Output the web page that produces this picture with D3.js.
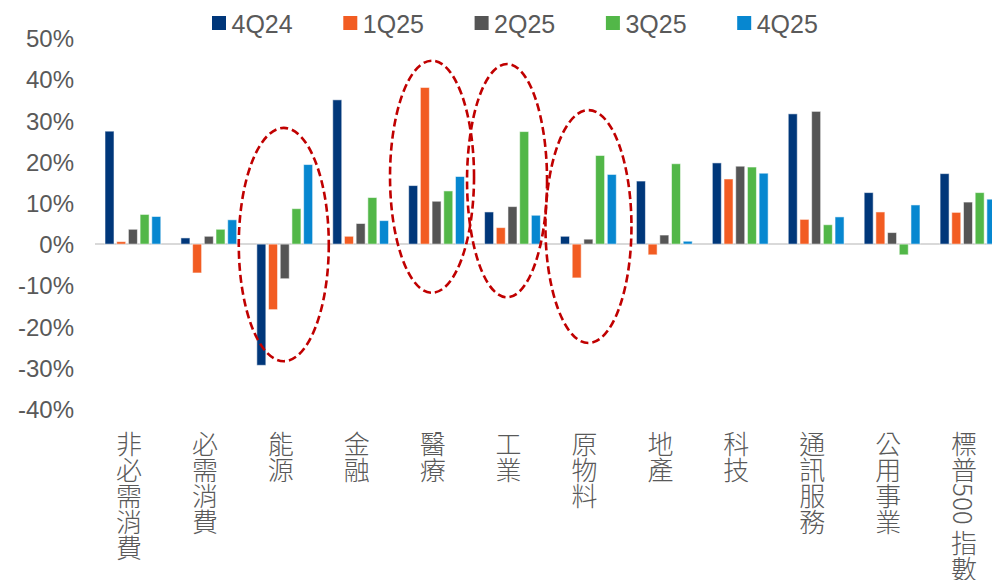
<!DOCTYPE html>
<html>
<head>
<meta charset="utf-8">
<script src="https://cdn.jsdelivr.net/npm/d3@7"></script>
<style>
    html, body {margin: 0; padding: 0; background: #fff; overflow: hidden;}
    #js-chart {width: 992px; height: 580px;}
</style>
</head>
<body>
<div id="js-chart"></div>
<script>
// 類股
var categories = ["非必需消費", "必需消費", "能源", "金融", "醫療", "工業", "原物料", "地產", "科技", "通訊服務", "公用事業", "標普500 指數"];
var seriesNames = ["4Q24", "1Q25", "2Q25", "3Q25", "4Q25"];
var seriesColors = ["#00377a", "#f25c22", "#555555", "#52b748", "#0787d0"];

// 各季報酬 (%)
var q4_24 = [27.4, 1.5, -29.4, 35.0, 14.2, 7.8, 1.9, 15.3, 19.7, 31.6, 12.5, 17.1];
var q1_25 = [0.6, -7.0, -15.9, 1.9, 38.0, 4.0, -8.2, -2.6, 15.8, 6.0, 7.8, 7.7];
var q2_25 = [3.6, 1.9, -8.4, 5.0, 10.4, 9.1, 1.2, 2.2, 18.9, 32.2, 2.8, 10.2];
var q3_25 = [7.2, 3.6, 8.6, 11.3, 12.9, 27.3, 21.5, 19.5, 18.7, 4.7, -2.6, 12.5];
var q4_25 = [6.7, 5.9, 19.3, 5.7, 16.4, 7.0, 16.9, 0.7, 17.2, 6.6, 9.5, 10.9];
var seriesValues = [q4_24, q1_25, q2_25, q3_25, q4_25];

var yTicks = [-40, -30, -20, -10, 0, 10, 20, 30, 40, 50];

// 圈起來的類股 (上緣, 下緣 %)
var circledCats = ["能源", "醫療", "工業", "原物料"];
var circledTop = [28.2, 44.5, 43.7, 32.5];
var circledBottom = [-28.4, -11.8, -12.9, -24.0];

var FONT = "Arial, 'Liberation Sans', sans-serif";
var CJK = "'Noto Sans CJK TC', 'Noto Sans CJK SC', sans-serif";
var TXT = "#595959";

function draw() {
    var width = 992, height = 580;

    var svg = d3.select("#js-chart").append("svg")
        .attr("width", width)
        .attr("height", height);

    var x0 = d3.scaleBand()
        .domain(categories)
        .range([95, 1006]);

    var x1 = d3.scaleBand()
        .domain(seriesNames)
        .range([10, 65.8])
        .paddingInner(0.23)
        .paddingOuter(0);

    var y = d3.scaleLinear()
        .domain([-40, 50])
        .range([409, 38]);

    // y 軸文字
    var yAxis = d3.axisLeft(y)
        .tickValues(yTicks)
        .tickSize(0)
        .tickPadding(0)
        .tickFormat(function (d) { return d + "%"; });

    var gy = svg.append("g")
        .attr("transform", "translate(74,0)")
        .call(yAxis);
    gy.select(".domain").remove();
    gy.selectAll("text")
        .attr("font-family", FONT)
        .attr("font-size", 24)
        .attr("fill", TXT)
        .attr("dy", "0.36em");

    // 零軸
    svg.append("line")
        .attr("x1", 95)
        .attr("x2", width)
        .attr("y1", y(0))
        .attr("y2", y(0))
        .attr("stroke", "#d9d9d9")
        .attr("stroke-width", 2);

    // 長條
    var rows = [];
    categories.forEach(function (c, i) {
        seriesNames.forEach(function (s, j) {
            rows.push({cat: c, s: s, j: j, v: seriesValues[j][i]});
        });
    });

    svg.append("g").selectAll("rect")
        .data(rows)
        .enter().append("rect")
        .attr("x", function (d) { return x0(d.cat) + x1(d.s); })
        .attr("width", x1.bandwidth())
        .attr("y", function (d) { return y(Math.max(0, d.v)); })
        .attr("height", function (d) { return Math.abs(y(d.v) - y(0)); })
        .attr("fill", function (d) { return seriesColors[d.j]; })
        .attr("stroke", "#ffffff")
        .attr("stroke-opacity", 0.55)
        .attr("stroke-width", 1);

    // 類股名稱 (直書)
    svg.append("g").selectAll("text")
        .data(categories)
        .enter().append("text")
        .attr("x", function (d) { return x0(d) + x0.bandwidth() / 2 - 4; })
        .attr("y", 431)
        .style("writing-mode", "vertical-rl")
        .attr("font-family", CJK)
        .attr("font-size", 26)
        .attr("font-weight", 300)
        .attr("fill", TXT)
        .text(function (d) { return d; });

    // 紅色虛線圈
    var dxs = [-1, -4.6, -5.5, 0];
    var rxs = [45, 42, 40, 43];
    svg.append("g").selectAll("ellipse")
        .data(circledCats)
        .enter().append("ellipse")
        .attr("cx", function (d, i) { return x0(d) + x0.bandwidth() / 2 + dxs[i]; })
        .attr("cy", function (d, i) { return (y(circledTop[i]) + y(circledBottom[i])) / 2; })
        .attr("rx", function (d, i) { return rxs[i]; })
        .attr("ry", function (d, i) { return (y(circledBottom[i]) - y(circledTop[i])) / 2; })
        .attr("fill", "none")
        .attr("stroke", "#c00000")
        .attr("stroke-width", 2.6)
        .attr("stroke-dasharray", "8,4");

    // 圖例
    var lg = svg.append("g").selectAll("g")
        .data(seriesNames)
        .enter().append("g")
        .attr("transform", function (d, i) { return "translate(" + (212 + i * 131.3) + ",0)"; });
    lg.append("rect")
        .attr("y", 16)
        .attr("width", 14)
        .attr("height", 14)
        .attr("fill", function (d, i) { return seriesColors[i]; });
    lg.append("text")
        .attr("x", 19.5)
        .attr("y", 32.5)
        .attr("font-family", FONT)
        .attr("font-size", 25)
        .attr("fill", TXT)
        .text(function (d) { return d; });
}

draw();
</script>
</body>
</html>
